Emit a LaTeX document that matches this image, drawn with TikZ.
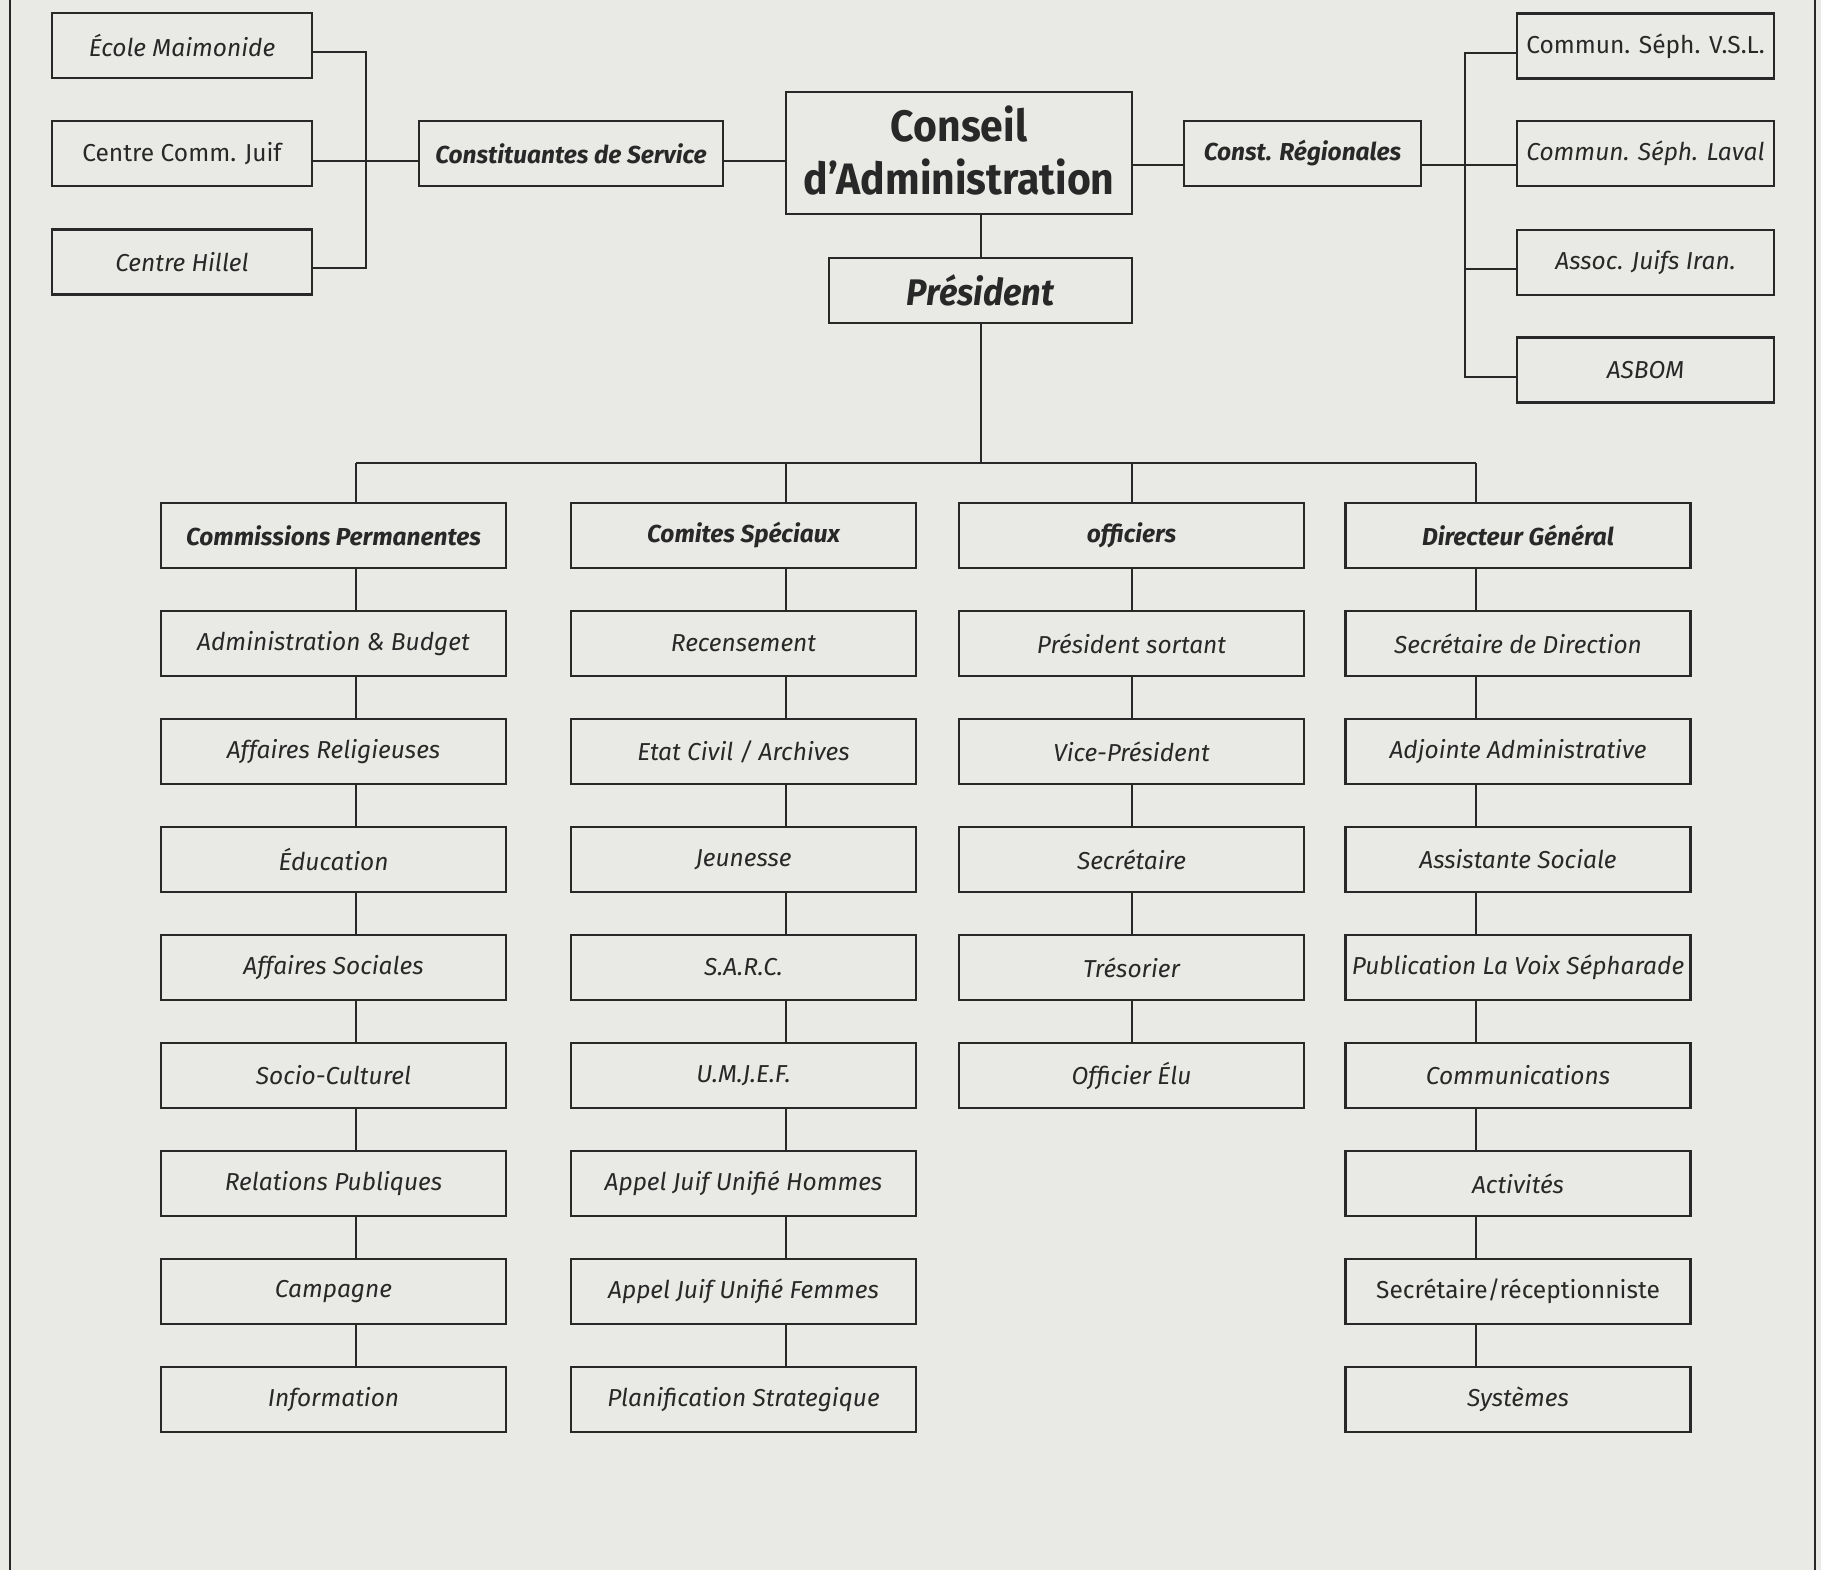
\documentclass[tikz,border=0pt]{standalone}
\usepackage{fontspec}
\newfontfamily\labf[FakeStretch=1.0]{Fira Sans}
\newfontfamily\titlef[FakeStretch=0.93]{Fira Sans}
\definecolor{ink}{RGB}{40,40,40}
\definecolor{paper}{RGB}{233,233,229}
\begin{document}
\begin{tikzpicture}[x=1pt,y=-1pt,
  box/.style={draw=ink, line width=2.6pt, minimum height=65pt, inner sep=0pt, text=ink,
    font=\labf\itshape\fontsize{24.5}{28}\selectfont},
  boxup/.style={box, font=\labf\fontsize{24.5}{28}\selectfont},
  head/.style={box, font=\labf\bfseries\itshape\fontsize{24.5}{28}\selectfont},
  colbox/.style={box, minimum width=345pt},
  colhead/.style={head, minimum width=345pt},
  link/.style={draw=ink, line width=2.2pt},
  frame/.style={draw=ink, line width=2.4pt}]
\fill[paper] (0,0) rectangle (1821,1570);
\useasboundingbox (0,0) rectangle (1821,1570);
\draw[frame] (10,0) -- (10,1570);
\draw[frame] (1815,0) -- (1815,1570);

% top left group
\node[box, minimum width=260pt] (ecole) at (182,45.5) {École Maimonide};
\node[boxup, minimum width=260pt] (ccj) at (182,153.5) {Centre Comm. Juif};
\node[box, minimum width=260pt] (hillel) at (182,262) {Centre Hillel};
\node[head, minimum width=304pt] (constserv) at (571,153.5) {Constituantes de Service};

% centre
\node[draw=ink, line width=2.6pt, minimum width=346pt, minimum height=122pt, inner sep=0pt, text=ink,
  align=center, font=\titlef\bfseries\fontsize{44}{53}\selectfont] (conseil) at (959,153) {Conseil\\d’Administration\rule[-6pt]{0pt}{6pt}};
\node[draw=ink, line width=2.6pt, minimum width=303pt, minimum height=65pt, inner sep=0pt, text=ink,
  font=\titlef\bfseries\itshape\fontsize{37}{44}\selectfont] (president) at (980.5,290.5) {Président};

% top right group
\node[head, minimum width=237pt] (constreg) at (1302.5,153.5) {Const. Régionales};
\node[boxup, minimum width=257pt] (vsl) at (1645.5,46) {Commun. Séph. V.S.L.};
\node[box, minimum width=257pt] (laval) at (1645.5,153.5) {Commun. Séph. Laval};
\node[box, minimum width=257pt] (iran) at (1645.5,262.5) {Assoc. Juifs Iran.};
\node[box, minimum width=257pt] (asbom) at (1645.5,370) {ASBOM};

% column 1
\node[colhead] (a0) at (333.5,535.5) {Commissions Permanentes};
\node[colbox] (a1) at (333.5,643.5) {Administration \& Budget};
\node[colbox] (a2) at (333.5,751.5) {Affaires Religieuses};
\node[colbox] (a3) at (333.5,859.5) {Éducation};
\node[colbox] (a4) at (333.5,967.5) {Affaires Sociales};
\node[colbox] (a5) at (333.5,1075.5) {Socio-Culturel};
\node[colbox] (a6) at (333.5,1183.5) {Relations Publiques};
\node[colbox] (a7) at (333.5,1291.5) {Campagne};
\node[colbox] (a8) at (333.5,1399.5) {Information};
% column 2
\node[colhead] (b0) at (743.5,535.5) {Comites Spéciaux};
\node[colbox] (b1) at (743.5,643.5) {Recensement};
\node[colbox] (b2) at (743.5,751.5) {Etat Civil / Archives};
\node[colbox] (b3) at (743.5,859.5) {Jeunesse};
\node[colbox] (b4) at (743.5,967.5) {S.A.R.C.};
\node[colbox] (b5) at (743.5,1075.5) {U.M.J.E.F.};
\node[colbox] (b6) at (743.5,1183.5) {Appel Juif Unifié Hommes};
\node[colbox] (b7) at (743.5,1291.5) {Appel Juif Unifié Femmes};
\node[colbox] (b8) at (743.5,1399.5) {Planification Strategique};
% column 3
\node[colhead] (c0) at (1131.5,535.5) {officiers};
\node[colbox] (c1) at (1131.5,643.5) {Président sortant};
\node[colbox] (c2) at (1131.5,751.5) {Vice-Président};
\node[colbox] (c3) at (1131.5,859.5) {Secrétaire};
\node[colbox] (c4) at (1131.5,967.5) {Trésorier};
\node[colbox] (c5) at (1131.5,1075.5) {Officier Élu};
% column 4
\node[colhead] (d0) at (1518,535.5) {Directeur Général};
\node[colbox] (d1) at (1518,643.5) {Secrétaire de Direction};
\node[colbox] (d2) at (1518,751.5) {Adjointe Administrative};
\node[colbox] (d3) at (1518,859.5) {Assistante Sociale};
\node[colbox] (d4) at (1518,967.5) {Publication La Voix Sépharade};
\node[colbox] (d5) at (1518,1075.5) {Communications};
\node[colbox] (d6) at (1518,1183.5) {Activités};
\node[boxup, minimum width=345pt] (d7) at (1518,1291.5) {Secrétaire/réceptionniste};
\node[colbox] (d8) at (1518,1399.5) {Systèmes};

% helper coordinates
\coordinate (BLtop) at (366,52);
\coordinate (BLbot) at (366,268);
\coordinate (BRtop) at (1465,53);
\coordinate (BRbot) at (1465,377);
\coordinate (P) at (981,0);
\coordinate (bus) at (0,463);
\coordinate (L1) at (356,0);
\coordinate (L2) at (786,0);
\coordinate (L3) at (1132,0);
\coordinate (L4) at (1476,0);

% top connectors
\draw[link] ([yshift=-6.5pt]ecole.east) -- (BLtop) -- (BLbot) -- ([yshift=-6pt]hillel.east);
\draw[link] ([yshift=-7.5pt]ccj.east) -- ([yshift=-7.5pt]constserv.west);
\draw[link] ([yshift=-7.5pt]constserv.east) -- ([yshift=-8pt]conseil.west);
\draw[link] ([yshift=-12pt]conseil.east) -- ([yshift=-11.5pt]constreg.west);
\draw[link] ([yshift=-11.5pt]constreg.east) -- ([yshift=-11.5pt]laval.west);
\draw[link] ([yshift=-7pt]vsl.west) -- (BRtop) -- (BRbot) -- ([yshift=-7pt]asbom.west);
\draw[link] ([yshift=-6.5pt]iran.west) -- ++(-52,0);
\draw[link] (conseil.south -| P) -- (president.north -| P);
\draw[link] (president.south -| P) -- (P |- bus);

% bus
\draw[link] (L1 |- bus) -- (L4 |- bus);
\draw[link] (L1 |- bus) -- (a0.north -| L1);
\draw[link] (L2 |- bus) -- (b0.north -| L2);
\draw[link] (L3 |- bus) -- (c0.north -| L3);
\draw[link] (L4 |- bus) -- (d0.north -| L4);

% columns
\foreach \c/\L/\n in {a/L1/8, b/L2/8, c/L3/5, d/L4/8}{
  \foreach \i [evaluate=\i as \j using int(\i+1)] in {0,...,7}{
    \ifnum\i<\n
      \draw[link] (\c\i.south -| \L) -- (\c\j.north -| \L);
    \fi
  }
}
\end{tikzpicture}
\end{document}
